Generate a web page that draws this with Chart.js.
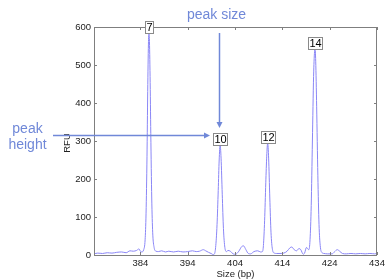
<!DOCTYPE html>
<html><head><meta charset="utf-8">
<script src="https://cdn.jsdelivr.net/npm/chart.js@4/dist/chart.umd.min.js"></script>
<style>html,body{margin:0;padding:0;background:#fff;}canvas{display:block;}</style>
</head><body>
<canvas id="c" width="388" height="280"></canvas>
<script>
// ---- data ----
const sizeBp = [
  374.2, 375, 376, 377, 378, 379, 380, 381, 381.8, 382.5, 383.2, 383.7, 384.0,
  384.3, 384.7, 385.0, 385.2, 385.4, 385.55, 385.7, 385.8, 385.9, 386.05, 386.2, 386.4, 386.6, 386.9, 387.3,
  387.8, 388.5, 389.3, 390, 391, 392, 393, 394, 395, 395.8, 396.5, 397.3, 397.8, 398.4, 399.1, 399.35,
  399.6, 399.9, 400.2, 400.45, 400.65, 400.85, 401.05, 401.3, 401.55, 401.85, 402.2,
  402.5, 403.0, 403.6, 404.1, 404.8, 405.4, 405.8, 406.3, 406.8, 407.3, 408.0, 408.8, 409.4,
  409.8, 410.0, 410.25, 410.5, 410.7, 410.9, 411.1, 411.35, 411.6, 411.9, 412.3,
  412.8, 413.5, 414.3, 415.0, 415.6, 416.0, 416.5, 417.0, 417.5, 417.9, 418.4, 418.7, 419.1, 419.35,
  419.6, 419.85, 420.1, 420.35, 420.6, 420.8, 420.9, 421.05, 421.25, 421.5, 421.75, 422.0, 422.4,
  422.8, 423.5, 424.5, 425.0, 425.6, 426.1, 426.7, 427.5, 428.5, 429.5, 430.5, 431.5, 432.5, 433.5, 434
];
const rfu = [
  3, 5, 4, 6, 5, 7, 8, 6, 11, 10, 12, 16, 10,
  8, 14, 40, 110, 260, 430, 555, 585, 570, 470, 320, 150, 60, 20, 10,
  9, 11, 8, 10, 8, 10, 8, 9, 11, 9, 10, 14, 11, 7, 3, 1,
  2, 20, 80, 170, 250, 290, 255, 160, 70, 20, 9,
  12, 10, 3, 2, 10, 22, 24, 14, 4, 3, 9, 11, 8,
  9, 25, 90, 190, 260, 295, 255, 150, 60, 15, 5,
  4, 4, 5, 10, 19, 21, 14, 11, 17, 14, 2, 5, 20, 16,
  14, 40, 130, 300, 470, 535, 543, 510, 390, 210, 80, 25, 6,
  4, 3, 3, 8, 14, 10, 4, 3, 4, 3, 4, 3, 4, 3, 4
];
const peakAlleles = ['7', '10', '12', '14'];
const peakSizes = [385.8, 400.85, 410.9, 420.9];
const peakHeights = [585, 290, 295, 543];
const xTicks = [384, 394, 404, 414, 424, 434];
const yTicks = [0, 100, 200, 300, 400, 500, 600];
const xTitle = 'Size (bp)';
const yTitle = 'RFU';
const noteSize = 'peak size';
const noteHeight = ['peak', 'height'];

const FONT = '"Liberation Sans", Arial, Helvetica, sans-serif';
const frameColor = '#7f7f7f';
const noteColor = '#7088d8';
const lineColor = '#8a86f6';

function arrow(ctx, x1, y1, x2, y2) {
  const a = Math.atan2(y2 - y1, x2 - x1);
  const L = 6, W = 3;
  ctx.beginPath();
  ctx.moveTo(x1, y1);
  ctx.lineTo(x2 - L * Math.cos(a), y2 - L * Math.sin(a));
  ctx.stroke();
  ctx.beginPath();
  ctx.moveTo(x2, y2);
  ctx.lineTo(x2 - L * Math.cos(a) + W * Math.sin(a), y2 - L * Math.sin(a) - W * Math.cos(a));
  ctx.lineTo(x2 - L * Math.cos(a) - W * Math.sin(a), y2 - L * Math.sin(a) + W * Math.cos(a));
  ctx.closePath();
  ctx.fill();
}

const decor = {
  id: 'decor',
  afterDraw(chart) {
    const ctx = chart.ctx;
    const ca = chart.chartArea;
    const xs = chart.scales.x, ys = chart.scales.y;
    ctx.save();
    // frame
    ctx.strokeStyle = frameColor;
    ctx.lineWidth = 1;
    ctx.strokeRect(ca.left + 0.5, ca.top + 0.5, ca.right - ca.left - 1, ca.bottom - ca.top);
    // inward ticks on all sides
    ctx.beginPath();
    xTicks.forEach(v => {
      const px = Math.round(xs.getPixelForValue(v)) + 0.5;
      ctx.moveTo(px, ca.bottom); ctx.lineTo(px, ca.bottom - 3);
      ctx.moveTo(px, ca.top); ctx.lineTo(px, ca.top + 3);
    });
    yTicks.forEach(v => {
      const py = Math.round(ys.getPixelForValue(v)) + 0.5;
      ctx.moveTo(ca.left, py); ctx.lineTo(ca.left + 3, py);
      ctx.moveTo(ca.right, py); ctx.lineTo(ca.right - 3, py);
    });
    ctx.stroke();

    // peak labels
    ctx.font = '11px ' + FONT;
    ctx.textAlign = 'center';
    ctx.textBaseline = 'middle';
    peakAlleles.forEach((lab, i) => {
      const px = xs.getPixelForValue(peakSizes[i]);
      const py = ys.getPixelForValue(peakHeights[i]);
      const tw = ctx.measureText(lab).width;
      const bw = Math.round(tw + 2), bh = 12;
      const bx = Math.round(px - bw / 2) + 0.5, by = Math.round(py - bh) + 0.5;
      ctx.fillStyle = '#fff';
      ctx.fillRect(bx, by, bw, bh);
      ctx.strokeStyle = '#8a8a8a';
      ctx.strokeRect(bx, by, bw, bh);
      ctx.fillStyle = '#000';
      ctx.fillText(lab, bx + bw / 2, by + bh / 2 + 0.5);
    });

    // axis titles
    ctx.fillStyle = '#222';
    ctx.font = '9.5px ' + FONT;
    ctx.textAlign = 'center';
    ctx.textBaseline = 'middle';
    ctx.fillText(xTitle, (ca.left + ca.right) / 2, 274);
    ctx.save();
    ctx.translate(67, (ca.top + ca.bottom) / 2 + 2);
    ctx.rotate(-Math.PI / 2);
    ctx.fillText(yTitle, 0, 0);
    ctx.restore();

    // annotations
    ctx.fillStyle = noteColor;
    ctx.strokeStyle = noteColor;
    ctx.lineWidth = 1.5;
    ctx.font = '14px ' + FONT;
    ctx.textAlign = 'left';
    ctx.textBaseline = 'alphabetic';
    ctx.fillText(noteSize, 187, 18.5);
    ctx.textAlign = 'center';
    ctx.fillText(noteHeight[0], 27.5, 132.5);
    ctx.fillText(noteHeight[1], 27.5, 149);
    const ax = Math.round(xs.getPixelForValue(peakSizes[1])) - 0.5;
    arrow(ctx, ax, 33, ax, 128);
    const ay = Math.round(ys.getPixelForValue(315)) + 0.5;
    arrow(ctx, 53, ay, 210, ay);
    ctx.restore();
  }
};

new Chart(document.getElementById('c'), {
  type: 'scatter',
  data: {
    datasets: [{
      data: sizeBp.map((s, i) => ({ x: s, y: rfu[i] })),
      showLine: true,
      borderColor: lineColor,
      borderWidth: 1,
      pointRadius: 0,
      cubicInterpolationMode: 'monotone'
    }]
  },
  options: {
    responsive: false,
    devicePixelRatio: 1,
    animation: false,
    layout: { padding: { top: 27, right: 11, bottom: 0, left: 0 } },
    plugins: { legend: { display: false }, tooltip: { enabled: false } },
    scales: {
      x: {
        type: 'linear', min: 374.2, max: 434,
        afterBuildTicks: s => { s.ticks = xTicks.map(v => ({ value: v })); },
        afterFit: s => { s.height = 25; },
        grid: { display: false, drawTicks: false }, border: { display: false },
        ticks: { color: '#222', font: { family: FONT, size: 9.5 }, padding: 3, maxRotation: 0 }
      },
      y: {
        min: 0, max: 600,
        afterBuildTicks: s => { s.ticks = yTicks.map(v => ({ value: v })); },
        afterFit: s => { s.width = 94; },
        grid: { display: false, drawTicks: false }, border: { display: false },
        ticks: { color: '#222', font: { family: FONT, size: 9.5 }, padding: 3 }
      }
    }
  },
  plugins: [decor]
});
</script>
</body></html>
